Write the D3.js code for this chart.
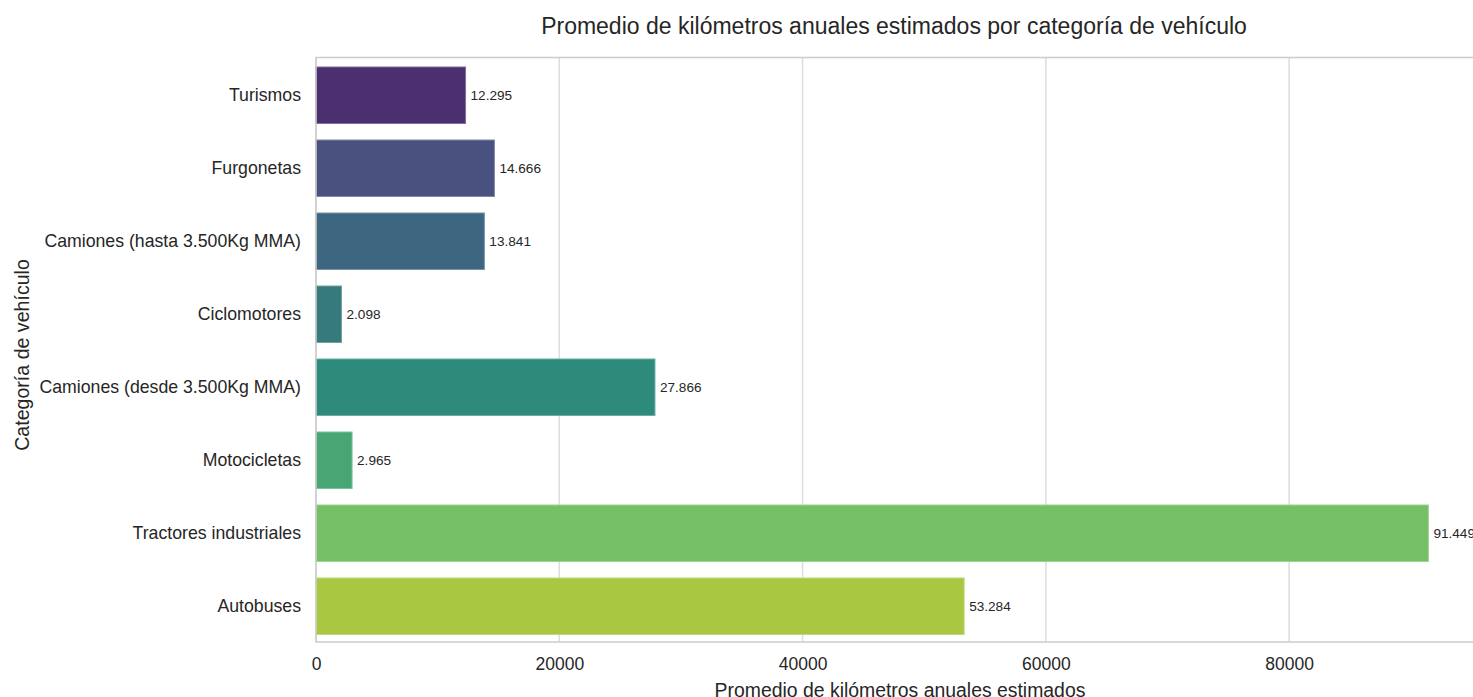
<!DOCTYPE html>
<html><head><meta charset="utf-8">
<script src="https://cdn.jsdelivr.net/npm/d3@7"></script>
<style>body{margin:0;background:#fff;} svg{display:block;font-family:"Liberation Sans",Arial,sans-serif;}</style>
</head><body>
<svg id="c" width="1473" height="697"></svg>
<script>
const categories = ["Turismos","Furgonetas","Camiones (hasta 3.500Kg MMA)","Ciclomotores","Camiones (desde 3.500Kg MMA)","Motocicletas","Tractores industriales","Autobuses"];
const values = [12295,14666,13841,2098,27866,2965,91449,53284];
const colors = ["#4b2f6f","#49527e","#3d6680","#377a7c","#2e8b7b","#47a674","#75bf65","#a9c740"];
const xTicks = [0,20000,40000,60000,80000];
const title = "Promedio de kilómetros anuales estimados por categoría de vehículo";
const xLabel = "Promedio de kilómetros anuales estimados";
const yLabel = "Categoría de vehículo";

const svg = d3.select("#c");
const L = 316, R = 1484, T = 57.5, B = 642;
const x = d3.scaleLinear().domain([0, 96021]).range([L, R]);
const y = d3.scaleBand().domain(categories).range([58.75, 642.75]).paddingInner(0.226).paddingOuter(0.113);

// gridlines
svg.append("g").selectAll("line").data(xTicks).join("line")
  .attr("x1", d => x(d)).attr("x2", d => x(d)).attr("y1", T).attr("y2", B)
  .attr("stroke", "#dddddd").attr("stroke-width", 1.5);

// bars
svg.append("g").selectAll("rect").data(values).join("rect")
  .attr("x", x(0)).attr("y", (d,i) => y(categories[i]))
  .attr("width", d => x(d) - x(0)).attr("height", y.bandwidth())
  .attr("fill", (d,i) => colors[i])
  .attr("stroke", (d,i) => d3.interpolateRgb(colors[i], "#ffffff")(0.3))
  .attr("stroke-width", 1);

// spines
svg.append("rect").attr("x", L).attr("y", T).attr("width", R - L).attr("height", B - T)
  .attr("fill", "none").attr("stroke", "#cccccc").attr("stroke-width", 1.5);

// value labels
const fmt = d3.formatLocale({decimal: ",", thousands: ".", grouping: [3], currency: ["", ""]}).format(",d");
svg.append("g").selectAll("text").data(values).join("text")
  .attr("x", d => x(d) + 5).attr("y", (d,i) => y(categories[i]) + y.bandwidth()/2)
  .attr("dy", "0.35em").attr("font-size", 13.6).attr("fill", "#262626")
  .text(d => fmt(d));

// x axis
const xa = svg.append("g").attr("transform", `translate(0,${B})`)
  .call(d3.axisBottom(x).tickValues(xTicks).tickSize(0).tickPadding(16).tickFormat(d3.format("d")));
xa.select(".domain").remove();
xa.selectAll("text").attr("font-size", 17.5).attr("fill", "#262626").attr("font-family", "Liberation Sans, Arial, sans-serif");

// y axis
const ya = svg.append("g").attr("transform", `translate(${L},0)`)
  .call(d3.axisLeft(y).tickSize(0).tickPadding(15));
ya.select(".domain").remove();
ya.selectAll("text").attr("font-size", 17.7).attr("fill", "#262626").attr("font-family", "Liberation Sans, Arial, sans-serif");

// title
svg.append("text").attr("x", 894).attr("y", 34).attr("text-anchor", "middle")
  .attr("font-size", 23).attr("fill", "#262626").text(title);
// axis labels
svg.append("text").attr("x", 900).attr("y", 697).attr("text-anchor", "middle")
  .attr("font-size", 19.4).attr("fill", "#262626").text(xLabel);
svg.append("text").attr("transform", `translate(29,355) rotate(-90)`).attr("text-anchor", "middle")
  .attr("font-size", 19.6).attr("fill", "#262626").text(yLabel);
</script>
</body></html>
